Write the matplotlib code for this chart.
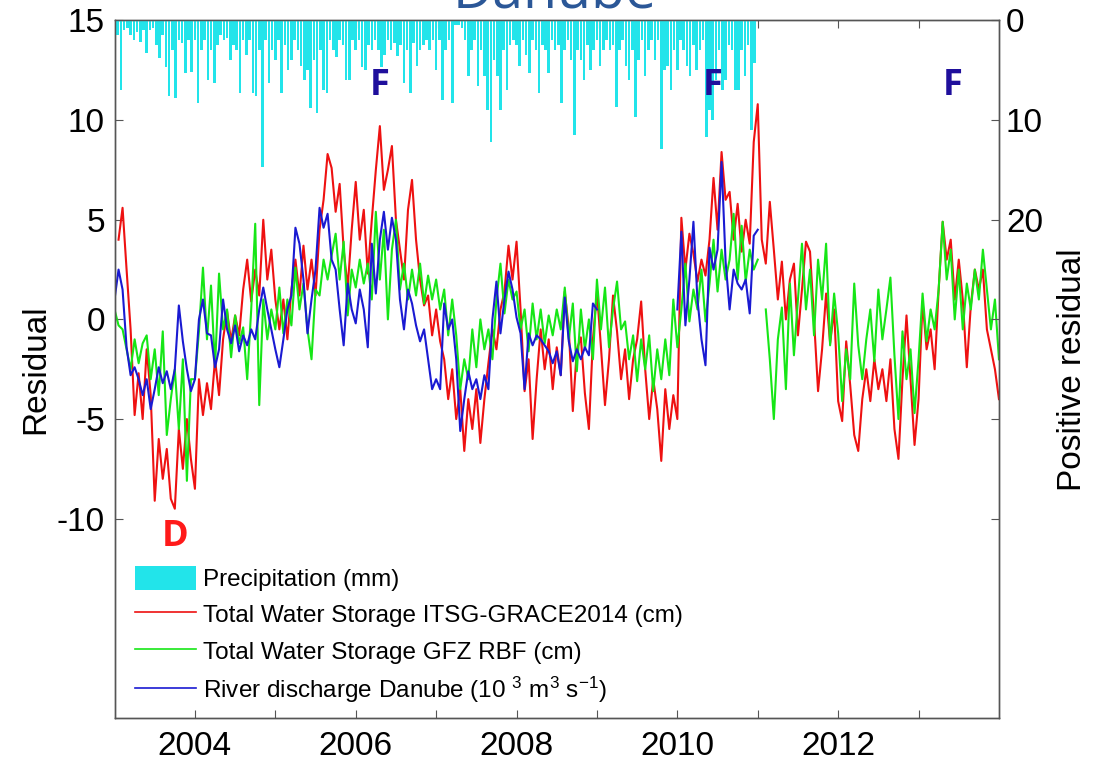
import numpy as np
import matplotlib
matplotlib.use('agg')
import matplotlib.pyplot as plt
from matplotlib.patches import Patch
from matplotlib.lines import Line2D

plt.rcParams['font.family'] = ['Liberation Sans', 'DejaVu Sans']
plt.rcParams['mathtext.fontset'] = 'custom'
plt.rcParams['mathtext.rm'] = 'Liberation Sans'
plt.rcParams['mathtext.it'] = 'Liberation Sans:italic'
plt.rcParams['axes.unicode_minus'] = False

CYAN = '#22e4ea'
RED = '#ee1111'
GREEN = '#16e616'
BLUE = '#1a1ad2'
MARK_BLUE = '#1f0f9c'
AXIS_GREY = '#555555'

# precipitation (mm), one bar every 0.04 yr from 2003.0, one row per year
PRECIP_START = 2003.0
PRECIP_STEP = 0.04
precip_mm = [
    8, 1.5, 7, 1, 0.8, 1.5, 2, 1.2, 2.2, 1, 3.3, 1, 0.8, 2.5, 3.8, 1.5, 4.7, 7.6, 3, 7.8, 2, 2.3, 5.3, 2, 5.2,
    2, 8.3, 3, 2, 6, 3, 6.3, 2.5, 1.5, 2, 1.8, 4, 2.5, 3, 7.3, 2, 3.5, 2, 7.3, 7.6, 3, 14.7, 2, 6.3, 3,
    4, 2, 7.3, 2.5, 5, 4, 2, 3, 4.6, 6, 5, 8.8, 4, 9.3, 3, 7.0, 7.3, 2, 3.0, 3.7, 2, 2.5, 6, 6, 2,
    3, 2, 4.7, 5, 2.5, 3, 2, 3, 4.7, 3.5, 2, 3, 2.3, 3.6, 2.5, 6.3, 3, 7.3, 2.3, 4.6, 3, 2.5, 2, 3, 2,
    5, 2, 8, 3, 2, 8.3, 0.5, 0.5, 0.8, 2, 5.6, 3, 2, 6.6, 3, 5.6, 9, 12.2, 4, 5.6, 9, 3, 7, 2.5, 2,
    2.5, 4.6, 2, 3.5, 5.3, 2, 3, 7.3, 2.5, 3, 5.3, 2, 3, 2.5, 8.3, 3, 2, 4, 11.5, 3, 4, 6, 2.5, 5, 3,
    2, 4.6, 3, 2, 3, 2.5, 8.7, 3, 2, 4.6, 6, 3, 9.7, 4, 2, 5.6, 3, 2, 4, 2, 12.9, 5, 4.6, 7, 3,
    5, 2, 3, 4.6, 5.6, 2.5, 5, 3, 2, 11.7, 9, 10, 6, 3, 7, 6, 2.5, 3, 7, 7, 3, 5.6, 2.5, 11, 4.3,
]

STEP = 0.05

# TWS ITSG-GRACE2014 (cm), from 2003.05
ITSG_START = 2003.05
tws_itsg = [
    4.0, 5.6, 2.5, -0.5, -4.8, -2.7, -5.0, -1.5, -3.8, -9.1, -6.0, -8.0, -6.5, -9.0, -9.5, -5.5, -7.5, -5.0, -7.0, -8.5,
    -3.0, -4.8, -3.2, -4.5, -2.0, -3.8, -1.0, 0.4, -1.1, 0.2, -0.8, 1.5, 3.0, 0.9, 2.5, 1.2, 5.0, 2.0, 3.5, 1.0,
    -0.5, 1.0, -1.0, 1.5, 3.0, 1.2, 3.7, 1.5, 3.0, 1.2, 4.5, 6.0, 8.3, 7.6, 5.4, 6.8, 3.5, 1.6, 4.5, 6.9,
    4.0, 5.5, 2.3, 5.0, 7.5, 9.7, 6.5, 7.5, 8.7, 5.0, 3.5, 2.0, 5.5, 7.0, 4.0, 2.0, 0.7, 1.2, -0.8, 0.5,
    -1.1, -2.0, -4.0, -2.5, -5.0, -3.5, -6.6, -4.0, -5.5, -3.5, -6.2, -4.0, -2.2, -0.5, -1.5, 0.5, 1.4, 3.7, 2.0, 3.9,
    0.5, -3.6, -2.0, -6.0, -3.0, -0.5, -2.5, -1.0, -3.5, -1.4, -2.8, 1.4, -0.5, -4.6, -1.5, -0.9, -3.7, -5.5, -1.0, 1.4,
    -1.4, -4.3, -2.0, 1.2, -0.6, -3.0, -1.5, -4.0, -2.0, -1.0, 0.9, -2.5, -5.0, -3.0, -4.5, -7.1, -3.5, -5.5, -3.8, -5.0,
    5.1, 2.5, 4.3, 3.3, 1.9, 3.0, 2.2, 4.0, 7.1, 4.5, 8.4, 6.0, 6.4, 4.0, 5.8, 3.4, 5.0, 3.8, 8.9, 10.8,
    4.0, 2.8, 5.9, 3.5, 1.0, 2.9, 0.0, 2.0, 2.8, -0.8, 1.5, 3.9, 3.4, 0.0, -3.6, -1.5, 1.3, -1.2, 0.5, -4.1,
    -5.1, -1.1, -3.3, -5.8, -6.6, -4.0, -2.5, -4.1, -2.0, -3.5, -2.5, -4.1, -2.0, -5.5, -7.0, -3.0, 0.2, -3.0, -6.3, -4.0,
    0.9, -1.5, -0.5, -2.5, 1.5, 4.9, 3.0, 4.0, 1.0, 3.0, 1.0, -2.4, 0.7, 2.5, 1.5, 2.5, -0.5, -1.5, -2.5, -4.0,
]

# TWS GFZ RBF (cm), from 2003.0
GFZ_START = 2003.0
tws_gfz = [
    0.5, -0.3, -0.5, -1.5, -2.5, -1.0, -2.2, -1.2, -0.8, -3.0, -1.5, -3.8, -0.6, -5.8, -4.0, -2.5, -5.5, -2.0, -8.1, -3.0,
    -3.0, -0.6, 2.6, -1.0, 1.7, -2.4, 2.3, -0.5, 0.5, -1.9, 0.2, -1.2, -0.4, -3.0, 0.5, 4.8, -4.3, 1.0, -1.0, 0.5,
    -0.5, 1.6, -0.7, 1.0, -0.3, 2.6, 0.5, 1.8, -0.5, -2.0, 1.5, 1.2, 3.0, 2.0, 3.2, 4.3, 2.0, 3.9, 0.2, 2.5,
    1.6, 3.0, 1.8, 2.8, 1.0, 5.4, 2.0, 4.5, 0.0, 3.5, 5.0, 1.5, 2.8, 1.0, 2.5, 1.2, 2.8, 0.8, 2.2, 1.0,
    2.0, 0.5, 1.5, -0.8, 1.0, -0.8, -3.5, -2.0, -3.0, -0.5, -2.4, 0.0, -1.5, -0.5, -2.0, 1.0, 2.8, 0.3, 2.0, 1.0,
    1.4, -0.5, 0.5, -1.6, 0.8, -1.0, 0.5, -1.2, 0.2, -0.8, 0.5, -0.5, 1.6, -1.0, 0.8, -2.6, 0.5, -1.5, 0.0, -2.0,
    2.0, -0.5, 1.6, -1.4, 0.5, 1.9, -0.5, -0.1, -2.0, -0.8, -3.1, -1.0, -2.5, -0.8, -3.6, -1.5, -3.0, -1.0, -2.8, 1.0,
    -1.4, 0.5, 2.8, -0.1, 1.5, 0.5, 2.5, -0.1, 1.8, 4.0, 1.4, 3.5, 2.0, 3.0, 5.3, 2.0, 4.7, 1.9, 3.5, 2.5,
    3.0, np.nan, 0.5, -2.0, -5.0, -1.0, 0.6, -3.5, 1.8, -1.8, 1.0, 3.8, 0.5, 2.5, -0.8, 3.0, 1.0, 3.8, -1.3, 1.3,
    -0.7, -4.1, -1.5, -3.0, 1.8, -1.3, -3.0, -1.0, 0.5, -2.1, 1.5, -1.0, 0.5, 2.1, -1.8, -5.0, -0.6, -3.0, -1.5, -4.7,
    -2.0, 1.3, -1.1, 0.5, -0.5, 1.5, 4.9, 2.0, 3.5, 0.0, 2.5, -0.5, 1.8, 0.5, 2.5, 1.0, 3.5, 1.5, -0.5, 1.0, -2.0,
]

# river discharge Danube (10^3 m^3/s), from 2003.0, no data during 2009
DISCHARGE_START = 2003.0
discharge = [
    1.0, 2.5, 1.5, -1.4, -2.8, -2.4, -3.0, -3.8, -3.0, -4.5, -3.5, -2.4, -3.2, -2.6, -3.5, -2.5, 0.7, -1.1, -2.5, -3.6,
    -3.0, 0.0, 1.0, -0.7, -0.8, -2.4, -1.5, 1.0, -0.5, -1.2, -0.3, -1.6, -0.8, -1.3, -0.5, -1.0, 0.5, 1.6, 0.5, -0.5,
    -1.5, -2.4, -1.0, 0.5, 1.2, 4.6, 3.8, 2.0, -0.7, 1.0, 2.5, 5.6, 4.6, 5.3, 3.0, 2.5, 0.5, -1.3, 1.8, 0.5,
    -0.2, 1.5, 0.5, -1.4, 3.8, 1.3, 4.0, 5.4, 3.5, 5.1, 4.0, 1.0, -0.5, 1.5, 0.8, -0.3, -1.1, -0.5, -2.0, -3.5,
    -3.0, -3.5, 0.8, -0.5, 0.0, -2.0, -5.6, -4.0, -2.6, -3.5, -3.0, -4.0, -2.8, -3.5, 0.0, 1.9, -0.7, 1.0, 2.4, 1.5,
    0.1, -0.7, -3.5, -0.7, -1.3, -0.8, -1.0, -1.3, -1.6, -2.2, -1.6, -2.8, 1.1, -1.1, -2.1, -1.5, -2.0, -1.4, -1.8, 0.8,
    0.5, np.nan, np.nan, np.nan, np.nan, np.nan, np.nan, np.nan, np.nan, np.nan,
    np.nan, np.nan, np.nan, np.nan, np.nan, np.nan, np.nan, np.nan, np.nan, np.nan,
    0.5, 4.4, -0.3, 2.0, 4.9, 1.0, -1.0, -2.3, 3.6, 2.5, 3.5, 7.9, 2.9, 0.5, 2.5, 1.8, 1.5, 2.0, 0.3, 4.2,
    4.5,
]

flood_years = [2006.30, 2010.44, 2013.42]
drought_year = 2003.75


def times(start, step, n):
    return start + step * np.arange(n)


def make_plot():
    fig = plt.figure(figsize=(10.98, 7.61), dpi=100)
    ax = fig.add_axes([0.1043, 0.0565, 0.8055, 0.9166])
    ax2 = ax.twinx()

    ax.plot(times(ITSG_START, STEP, len(tws_itsg)), tws_itsg, color=RED, lw=1.5)
    ax.plot(times(GFZ_START, STEP, len(tws_gfz)), tws_gfz, color=GREEN, lw=1.5)
    ax.plot(times(DISCHARGE_START, STEP, len(discharge)), discharge, color=BLUE, lw=1.5)

    ax2.bar(times(PRECIP_START, PRECIP_STEP, len(precip_mm)), precip_mm, width=0.032,
            color=CYAN, linewidth=0)

    ax.set_xlim(2003, 2014)
    ax.set_ylim(-20, 15)
    ax2.set_ylim(70, 0)

    years = list(range(2004, 2014))
    ax.set_xticks(years)
    ax.set_xticklabels([str(y) if y % 2 == 0 else '' for y in years])
    ax.set_yticks(range(-10, 16, 5))
    ax2.set_yticks(range(0, 60, 10))
    ax2.set_yticklabels(['0', '10', '20', '', '', ''])

    ax.tick_params(direction='in', length=6, width=0.8, color=AXIS_GREY, labelsize=24,
                   top=True, right=False, pad=7)
    ax.tick_params(axis='x', pad=9)
    ax2.tick_params(direction='in', length=6, width=0.8, color=AXIS_GREY, labelsize=24, pad=5)
    for a in (ax, ax2):
        for s in a.spines.values():
            s.set_color(AXIS_GREY)
            s.set_linewidth(1.0)

    ax.set_ylabel('Residual', fontsize=24, labelpad=4)
    ax2.set_ylabel('Positive residual', fontsize=24, labelpad=10)

    # markers go on the top axes so the rain bars do not cover them
    for x in flood_years:
        ax2.text(x, 11.7, 'F', transform=ax.transData, color=MARK_BLUE, fontsize=26,
                 fontweight='bold', family='Open Sans', ha='center', va='center')
    ax2.text(drought_year, -10.9, 'D', transform=ax.transData, color='#ff1a1a', fontsize=26,
             fontweight='bold', family='Open Sans', ha='center', va='center')

    fig.text(0.5055, 0.989, 'Danube', fontsize=40, color='#2b5797', family='Open Sans',
             ha='center', va='baseline')

    handles = [Patch(facecolor=CYAN, edgecolor='none'),
               Line2D([], [], color=RED, lw=1.2),
               Line2D([], [], color=GREEN, lw=1.2),
               Line2D([], [], color=BLUE, lw=1.2)]
    labels = ['Precipitation (mm)',
              'Total Water Storage ITSG-GRACE2014 (cm)',
              'Total Water Storage GFZ RBF (cm)',
              'River discharge Danube (10 $^{3}$ m$^{3}$ s$^{-1}$)']
    ax2.legend(handles, labels, loc='upper left', bbox_to_anchor=(0.023, 0.218),
               frameon=False, fontsize=17.5, handlelength=2.5, handletextpad=0.3,
               borderpad=0, borderaxespad=0, labelspacing=0.45, handleheight=1.15)

    fig.savefig('out.png', dpi=100)


def main():
    make_plot()


if __name__ == '__main__':
    main()
